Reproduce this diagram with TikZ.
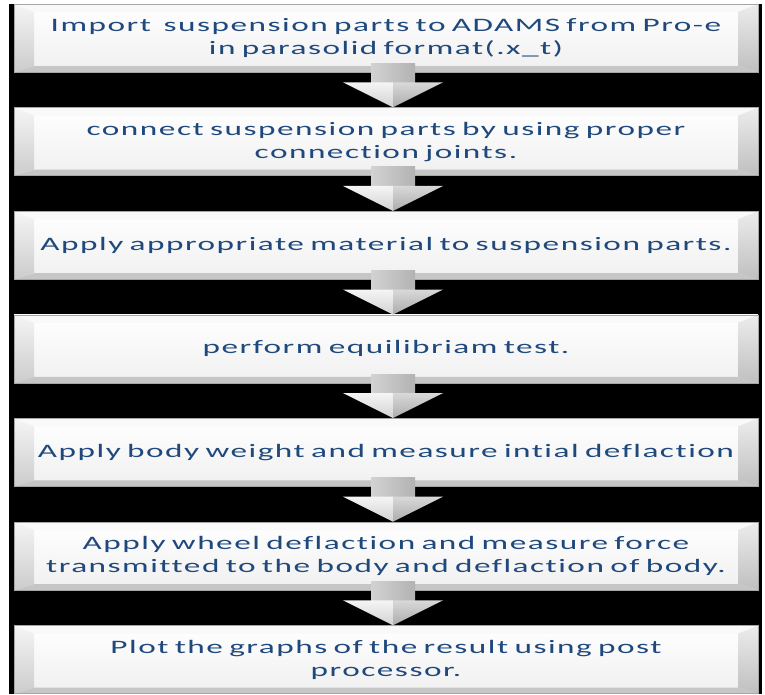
\documentclass[tikz,border=0pt]{standalone}
\usepackage{fontspec}
\setmainfont{Carlito}[FakeStretch=1.75,LetterSpace=8,Ligatures=NoCommon]
\usepackage{tikz}
\usetikzlibrary{positioning}
\definecolor{stepblue}{RGB}{31,73,125}

\newcommand{\steparrow}[2]{%
  \shade[left color=gray!35, middle color=white, right color=gray!60]
    ([xshift=-15pt,yshift=9pt]#1.south) rectangle ([xshift=29pt,yshift=-11pt]#1.south);
  \shade[top color=gray!8, bottom color=gray!35]
    ([xshift=-43pt,yshift=-10pt]#1.south) -- ([xshift=7pt,yshift=-10pt]#1.south) -- ([xshift=7pt]#2.north) -- cycle;
  \shade[top color=gray!30, bottom color=gray!65]
    ([xshift=57pt,yshift=-10pt]#1.south) -- ([xshift=7pt,yshift=-10pt]#1.south) -- ([xshift=7pt]#2.north) -- cycle;
}

\tikzset{
  stepbox/.style={rectangle, minimum width=744pt, minimum height=68pt, inner sep=0pt,
    text width=738pt, align=center, text=stepblue, font=\fontsize{19}{23}\selectfont,
    draw=gray!70, line width=0.6pt,
    path picture={
      \shade[top color=white, bottom color=gray!12]
        (path picture bounding box.south west) rectangle (path picture bounding box.north east);
      % top and bottom bevel
      \fill[gray!5] (path picture bounding box.north west) -- (path picture bounding box.north east)
        -- ([xshift=-20pt,yshift=-8pt]path picture bounding box.north east)
        -- ([xshift=20pt,yshift=-8pt]path picture bounding box.north west) -- cycle;
      \fill[gray!45] (path picture bounding box.south west) -- (path picture bounding box.south east)
        -- ([xshift=-20pt,yshift=6pt]path picture bounding box.south east)
        -- ([xshift=20pt,yshift=6pt]path picture bounding box.south west) -- cycle;
      % side bevels
      \shade[top color=gray!8, bottom color=gray!40] (path picture bounding box.north west)
        -- ([xshift=20pt,yshift=-8pt]path picture bounding box.north west)
        -- ([xshift=20pt,yshift=6pt]path picture bounding box.south west)
        -- (path picture bounding box.south west) -- cycle;
      \shade[top color=gray!15, bottom color=gray!50] (path picture bounding box.north east)
        -- ([xshift=-20pt,yshift=-8pt]path picture bounding box.north east)
        -- ([xshift=-20pt,yshift=6pt]path picture bounding box.south east)
        -- (path picture bounding box.south east) -- cycle;
    }}
}

\begin{document}
\begin{tikzpicture}[x=1pt, y=-1pt]
  \useasboundingbox (0,0) rectangle (765,694);
  \fill[black] (9,4) rectangle (762,694);

  \node[stepbox] (s1) at (386,38) {Import~ suspension parts to ADAMS from Pro-e\\in parasolid format(.x\_t)};
  \node[stepbox, below=35pt of s1] (s2) {connect suspension parts by using proper\\connection joints.};
  \node[stepbox, below=35pt of s2] (s3) {Apply appropriate material to suspension parts.};
  \node[stepbox, below=35pt of s3] (s4) {perform equilibriam test.};
  \node[stepbox, below=35pt of s4] (s5) {Apply body weight and measure intial deflaction};
  \node[stepbox, below=35pt of s5] (s6) {Apply wheel deflaction and measure force\\transmitted to the body and deflaction of body.};
  \node[stepbox, below=35pt of s6] (s7) {Plot the graphs of the result using post\\processor.};

  \steparrow{s1}{s2}
  \steparrow{s2}{s3}
  \steparrow{s3}{s4}
  \steparrow{s4}{s5}
  \steparrow{s5}{s6}
  \steparrow{s6}{s7}
\end{tikzpicture}
\end{document}
